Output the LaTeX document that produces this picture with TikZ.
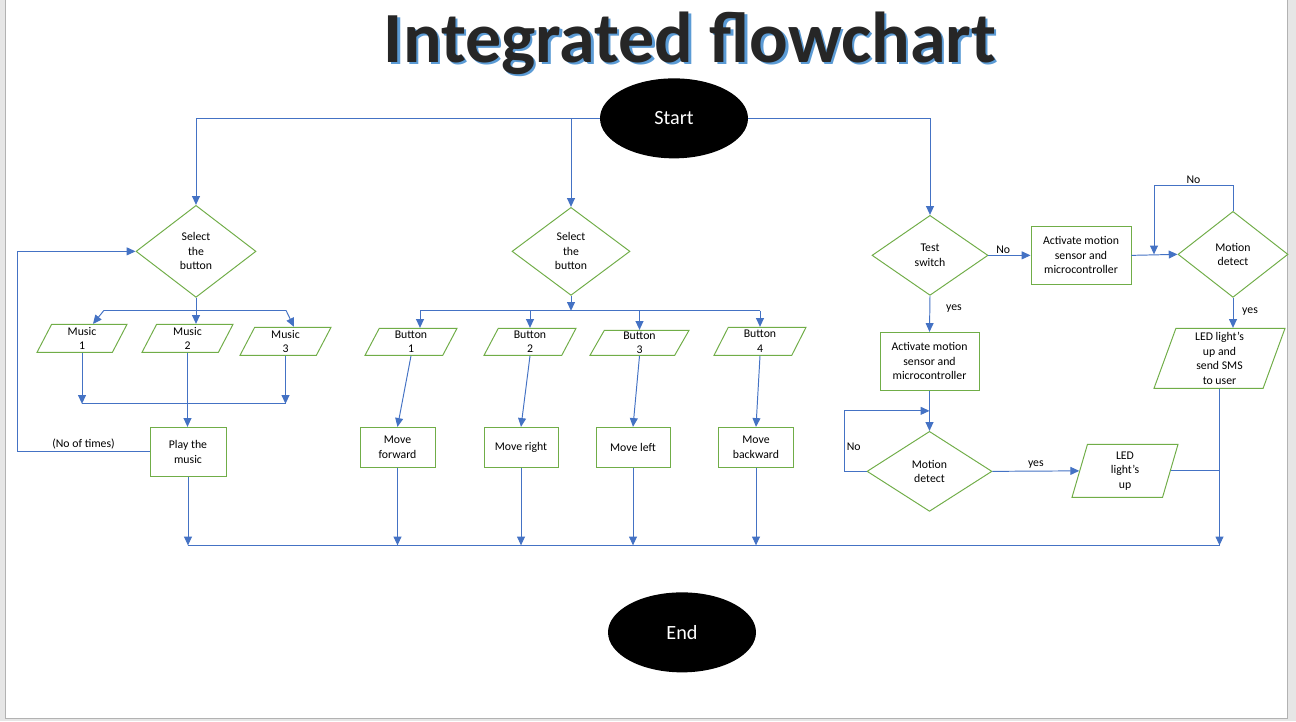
\documentclass[tikz,border=0pt]{standalone}
\usepackage{fontspec}
\setmainfont{Carlito}
\usetikzlibrary{shapes.geometric,arrows.meta,calc}
\definecolor{flowblue}{HTML}{4472C4}
\definecolor{flowgreen}{HTML}{70AD47}
\definecolor{titleshade}{HTML}{5B9BD5}
\definecolor{titletext}{HTML}{262626}
\definecolor{pagegrey}{HTML}{E6E6E6}
\def\px{0.02cm}
\newcommand\chartfont{\fontsize{6.7}{8.2}\selectfont}
\newcommand\shadowtitle[1]{\rlap{\kern1.4pt\raisebox{-1.5pt}{\textcolor{titleshade}{#1}}}#1}
\tikzset{
  every node/.style={font=\chartfont},
  terminal/.style={ellipse, fill=black, text=white, inner sep=0pt,
    minimum width=148*\px, minimum height=80*\px, font=\fontsize{11.5}{14}\selectfont},
  decision/.style={diamond, draw=flowgreen, line width=0.55pt, inner sep=0pt, align=center},
  process/.style={rectangle, draw=flowgreen, line width=0.55pt, inner sep=0pt, align=center},
  io/.style={trapezium, trapezium left angle=57, trapezium right angle=123,
    trapezium stretches body, draw=flowgreen, line width=0.55pt, inner sep=0pt, align=center},
  flow/.style={draw=flowblue, line width=0.55pt, -{Triangle[width=4.5pt,length=5pt]}},
  link/.style={draw=flowblue, line width=0.55pt},
  lbl/.style={inner sep=1pt},
}

\begin{document}
\begin{tikzpicture}[x=0.02cm, y=-0.02cm]
		%%%%% PAGE %%%%%
		\fill[pagegrey] (0,0) rectangle (1296,721);
		\fill[white] (5,0) rectangle (1287,718);
		\draw[gray!60, line width=0.4pt] (5,0) -- (5,718) -- (1287,718) -- (1287,0);
		
		%%%%% TITLE %%%%%
		\node[anchor=base, text=titletext, font=\fontsize{41}{48}\selectfont\bfseries] (title) at (690,62) {\shadowtitle{Integrated flowchart}};
		
		%%%%% START / END %%%%%
		\node[terminal] (start) at (674,118) {Start};
		\node[terminal] (stop) at (682,632) {End};
		
		%%%%% MUSIC %%%%%
		\node[decision, minimum width=120*\px, minimum height=92*\px] (sel1) at (196,251) {Select\\the\\button};
		\node[io, minimum width=90*\px, minimum height=28*\px] (mus1) at (82,338) {Music\\1};
		\node[io, minimum width=91*\px, minimum height=28*\px] (mus2) at (187.5,338) {Music\\2};
		\node[io, minimum width=91*\px, minimum height=28*\px] (mus3) at (285.5,341) {Music\\3};
		\node[process, minimum width=76*\px, minimum height=49*\px] (play) at (188,451.5) {Play the\\music};
		
		%%%%% BUTTONS %%%%%
		\node[decision, minimum width=118*\px, minimum height=88*\px] (sel2) at (571,251) {Select\\the\\button};
		\node[io, minimum width=92*\px, minimum height=27*\px] (bt1) at (411,341.5) {Button\\1};
		\node[io, minimum width=92*\px, minimum height=27*\px] (bt2) at (530,341.5) {Button\\2};
		\node[io, minimum width=99*\px, minimum height=25*\px] (bt3) at (639.5,342.5) {Button\\3};
		\node[io, minimum width=92*\px, minimum height=28*\px] (bt4) at (760,341) {Button\\4};
		\node[process, minimum width=75*\px, minimum height=40*\px] (mfwd) at (397.5,447) {Move\\forward};
		\node[process, minimum width=74*\px, minimum height=40*\px] (mright) at (521,447) {Move right};
		\node[process, minimum width=74*\px, minimum height=40*\px] (mleft) at (633,447) {Move left};
		\node[process, minimum width=75*\px, minimum height=40*\px] (mback) at (756,447) {Move\\backward};
		
		%%%%% MOTION %%%%%
		\node[decision, minimum width=116*\px, minimum height=80*\px] (tsw) at (930,255) {Test\\switch};
		\node[process, minimum width=100*\px, minimum height=58*\px] (act1) at (1081,255) {Activate motion\\sensor and\\microcontroller};
		\node[decision, minimum width=110*\px, minimum height=86*\px] (mdet1) at (1233,254) {Motion\\detect};
		\node[io, trapezium left angle=67, trapezium right angle=113, minimum width=131*\px, minimum height=60*\px] (led2) at (1219.5,358) {LED light's\\up and\\send SMS\\to user};
		\node[process, minimum width=99*\px, minimum height=58*\px] (act2) at (929.5,361) {Activate motion\\sensor and\\microcontroller};
		\node[decision, minimum width=125*\px, minimum height=80*\px] (mdet2) at (929.5,471) {Motion\\detect};
		\node[io, trapezium left angle=68, trapezium right angle=112, minimum width=106*\px, minimum height=53*\px] (led1) at (1125,470.5) {LED\\light's\\up};
		
		%%%%% CONNECTORS %%%%%
		\draw[flow] (start.west) -| (sel1.north);
		\draw[flow] (start.west -| sel2.north) -- (sel2.north);
		\draw[flow] (start.east) -| (tsw.north);
		
		% music branch
		\coordinate (fork1L) at (104,310);
		\coordinate (fork1R) at (286,310);
		\draw[flow] (sel1.south) -- (sel1.south |- mus2.north);
		\draw[link] (fork1L) -- (fork1R);
		\draw[flow] (fork1L) -- ($(mus1.north)+(11,0)$);
		\draw[flow] (fork1R) -- ($(mus3.north)+(8.5,0)$);
		\draw[flow] (mus1.south) -- ++(0,51) coordinate (join1);
		\draw[flow] (mus3.south) -- (mus3.south |- join1) coordinate (join3);
		\draw[link] (join1) -- (join3);
		\draw[flow] (mus2.south) -- (mus2.south |- play.north);
		\draw[flow] (play.west) -- node[lbl, above]{(No of times)} ++(-132,0) |- (sel1.west);
		
		% button branch
		\draw[flow] (sel2.south) -- ++(0,15) coordinate (fork2);
		\draw[link] (fork2 -| bt4.north) -- ++(-340,0) coordinate (fork2L);
		\draw[flow] (fork2L) -- (fork2L |- bt1.north);
		\foreach \b in {bt2,bt3,bt4}
			\draw[flow] (fork2 -| \b.north) -- (\b.north);
		\foreach \a/\b in {bt1/mfwd,bt2/mright,bt3/mleft,bt4/mback}
			\draw[flow] (\a.south) -- (\b.north);
		
		% motion branch
		\draw[flow] (tsw.east) -- node[lbl, above, pos=0.35]{No} (act1.west);
		\draw[flow] (act1.east) -- (mdet1.west);
		\draw[flow] (mdet1.north) |- node[lbl, above, pos=0.75]{No} (1154,185) -- (1154,254);
		\draw[flow] (mdet1.south) -- node[lbl, right, xshift=7*\px, pos=0.45]{yes} (mdet1.south |- led2.north);
		\draw[flow] (tsw.south) -- node[lbl, right, xshift=14*\px, pos=0.35]{yes} (act2.north);
		\draw[flow] (act2.south) -- (mdet2.north);
		\draw[flow] (mdet2.west) -- ++(-22,0) |- node[lbl, right, pos=0.2]{No} ($(act2.south)!0.5!(mdet2.north)$);
		\draw[flow] (mdet2.east) -- node[lbl, above]{yes} (led1.west);
		\draw[link] (led1.east) -- (led1.east -| led2.south);
		
		% bottom line
		\coordinate (busL) at (187.5,545);
		\coordinate (busR) at (1219.5,545);
		\draw[link] (busL) -- (busR);
		\draw[flow] (play.south) -- (play.south |- busL);
		\foreach \b in {mfwd,mright,mleft,mback}
			\draw[flow] (\b.south) -- (\b.south |- busL);
		\draw[flow] (led2.south) -- (busR);
\end{tikzpicture}
\end{document}
